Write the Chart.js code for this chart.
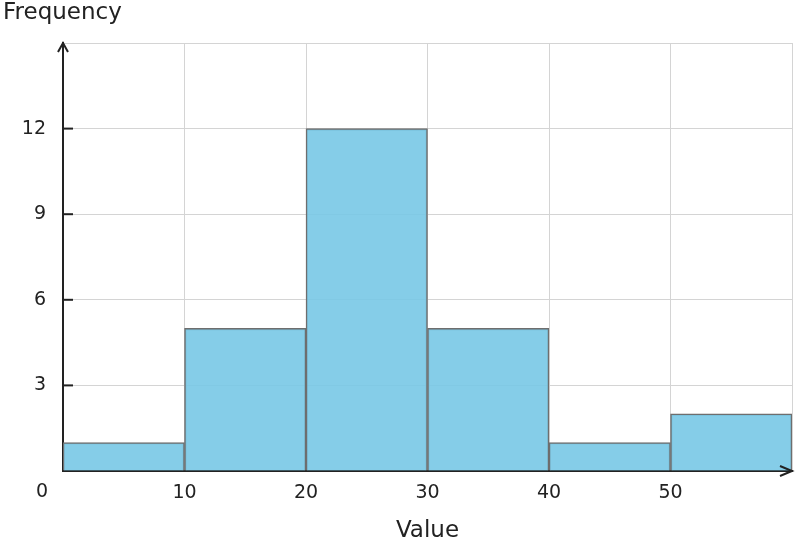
<!DOCTYPE html>
<html>
<head>
<meta charset="utf-8">
<script src="https://cdn.jsdelivr.net/npm/chart.js@4"></script>
<style>
  html, body { margin: 0; padding: 0; background: #fff; }
  #wrap { width: 796px; height: 548px; }
</style>
</head>
<body>
<div id="wrap"><canvas id="myChart"></canvas></div>
<script>
var binStarts = [0, 10, 20, 30, 40, 50]
var binWidth = 10
var counts = [1, 5, 12, 5, 1, 2]
var yTicks = [3, 6, 9, 12]
var xLabel = 'Value'
var yLabel = 'Frequency'

var FONT = '"DejaVu Sans", sans-serif'

// arrows, origin label and axis titles
const axisDecor = {
    id: 'axisDecor',
    afterDraw(chart) {
        const ctx = chart.ctx
        const a = chart.chartArea
        ctx.save()
        ctx.strokeStyle = '#222'
        ctx.lineWidth = 2
        // y tick marks inside the plot
        yTicks.forEach(t => {
            const py = chart.scales.y.getPixelForValue(t)
            ctx.beginPath()
            ctx.moveTo(a.left, py)
            ctx.lineTo(a.left + 10, py)
            ctx.stroke()
        })
        // y axis arrow
        ctx.beginPath()
        ctx.moveTo(a.left - 5, a.top + 9)
        ctx.lineTo(a.left, a.top)
        ctx.lineTo(a.left + 5, a.top + 9)
        ctx.stroke()
        // x axis arrow
        ctx.beginPath()
        ctx.moveTo(a.right - 12, a.bottom - 5)
        ctx.lineTo(a.right, a.bottom)
        ctx.lineTo(a.right - 12, a.bottom + 5)
        ctx.stroke()

        ctx.fillStyle = '#222'
        ctx.font = '19px ' + FONT
        ctx.textAlign = 'center'
        ctx.textBaseline = 'middle'
        ctx.fillText('0', 42, 492)
        ctx.font = '23px ' + FONT
        ctx.fillText(xLabel, (a.left + a.right) / 2, 531)
        ctx.textAlign = 'left'
        ctx.fillText(yLabel, 3, 13)
        ctx.restore()
    }
}

const ctx = document.getElementById('myChart')
new Chart(ctx, {
    type: 'bar',
    data: {
        datasets: [{
            data: binStarts.map((s, i) => ({x: s + binWidth / 2, y: counts[i]})),
            backgroundColor: 'rgba(120, 200, 230, 0.9)',
            borderColor: '#6e6e6e',
            borderWidth: 1.5,
            barPercentage: 1,
            categoryPercentage: 1,
            grouped: false
        }]
    },
    options: {
        responsive: true,
        maintainAspectRatio: false,
        animation: false,
        layout: { padding: { top: 43, right: 4, left: 0, bottom: 0 } },
        plugins: { legend: { display: false }, tooltip: { enabled: false } },
        scales: {
            x: {
                type: 'linear',
                min: 0,
                max: 60,
                offset: false,
                afterFit: s => { s.height = 77; s.paddingLeft = 0; s.paddingRight = 0 },
                grid: { color: '#d4d4d4', lineWidth: 1, drawTicks: false, offset: false },
                border: { color: '#222', width: 2 },
                ticks: {
                    stepSize: 10,
                    padding: 11,
                    color: '#222',
                    font: { family: FONT, size: 19 },
                    callback: v => (v === 0 || v === 60) ? '' : v
                }
            },
            y: {
                min: 0,
                max: 15,
                afterFit: s => { s.width = 63; s.paddingTop = 0; s.paddingBottom = 0 },
                grid: { color: '#d4d4d4', lineWidth: 1, drawTicks: false },
                border: { color: '#222', width: 2 },
                ticks: {
                    stepSize: 3,
                    padding: 17,
                    color: '#222',
                    font: { family: FONT, size: 19 },
                    callback: v => yTicks.includes(v) ? v : ''
                }
            }
        }
    },
    plugins: [axisDecor]
})
</script>
</body>
</html>
